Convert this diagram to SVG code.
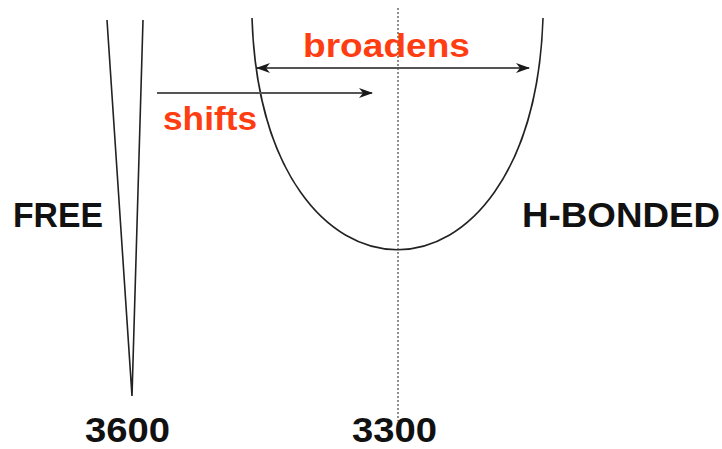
<svg xmlns="http://www.w3.org/2000/svg" width="722" height="449" viewBox="0 0 722 449">
  <style>
    .lbl { font-family: "Liberation Sans", Arial, sans-serif; font-weight: bold; fill: #111; }
    .red { font-family: "Liberation Sans", Arial, sans-serif; font-weight: bold; fill: #ff3d12; }
    .curve { fill: none; stroke: #222; stroke-width: 1.6; }
    .arrow { fill: none; stroke: #555; stroke-width: 2; }
    .dot { fill: none; stroke: #444; stroke-width: 1.2; stroke-dasharray: 2 2; }
  </style>
  <defs>
    <marker id="ah" viewBox="0 0 14 10" refX="13" refY="5" markerWidth="14" markerHeight="10" markerUnits="userSpaceOnUse" orient="auto-start-reverse">
      <path d="M0,0 L14,5 L0,10 L4,5 z" fill="#1a1a1a"/>
    </marker>
  </defs>
  <rect width="722" height="449" fill="#ffffff"/>

  <g id="free-band">
    <path class="curve" d="M107,20 L132,396 L143,20" stroke="#444" stroke-width="2"/>
  </g>

  <g id="hbonded-band">
    <path class="curve" d="M252,18 C262,327 533,327 543,18"/>
  </g>

  <g id="connectors">
    <line class="dot" x1="398" y1="8" x2="398" y2="421"/>
    <line class="arrow" x1="157" y1="93" x2="372" y2="93" marker-end="url(#ah)"/>
    <line class="arrow" x1="257" y1="68" x2="529" y2="68" marker-start="url(#ah)" marker-end="url(#ah)"/>
  </g>

  <g id="labels">
    <text class="red" x="303" y="57" font-size="34" textLength="167" lengthAdjust="spacingAndGlyphs">broadens</text>
    <text class="red" x="163" y="130" font-size="34" textLength="94" lengthAdjust="spacingAndGlyphs">shifts</text>
    <text class="lbl" x="13" y="227" font-size="35" textLength="90" lengthAdjust="spacingAndGlyphs">FREE</text>
    <text class="lbl" x="522" y="227" font-size="35" textLength="198" lengthAdjust="spacingAndGlyphs">H-BONDED</text>
    <text class="lbl" x="85" y="442" font-size="35" textLength="85" lengthAdjust="spacingAndGlyphs">3600</text>
    <text class="lbl" x="352" y="442" font-size="35" textLength="85" lengthAdjust="spacingAndGlyphs">3300</text>
  </g>
</svg>
